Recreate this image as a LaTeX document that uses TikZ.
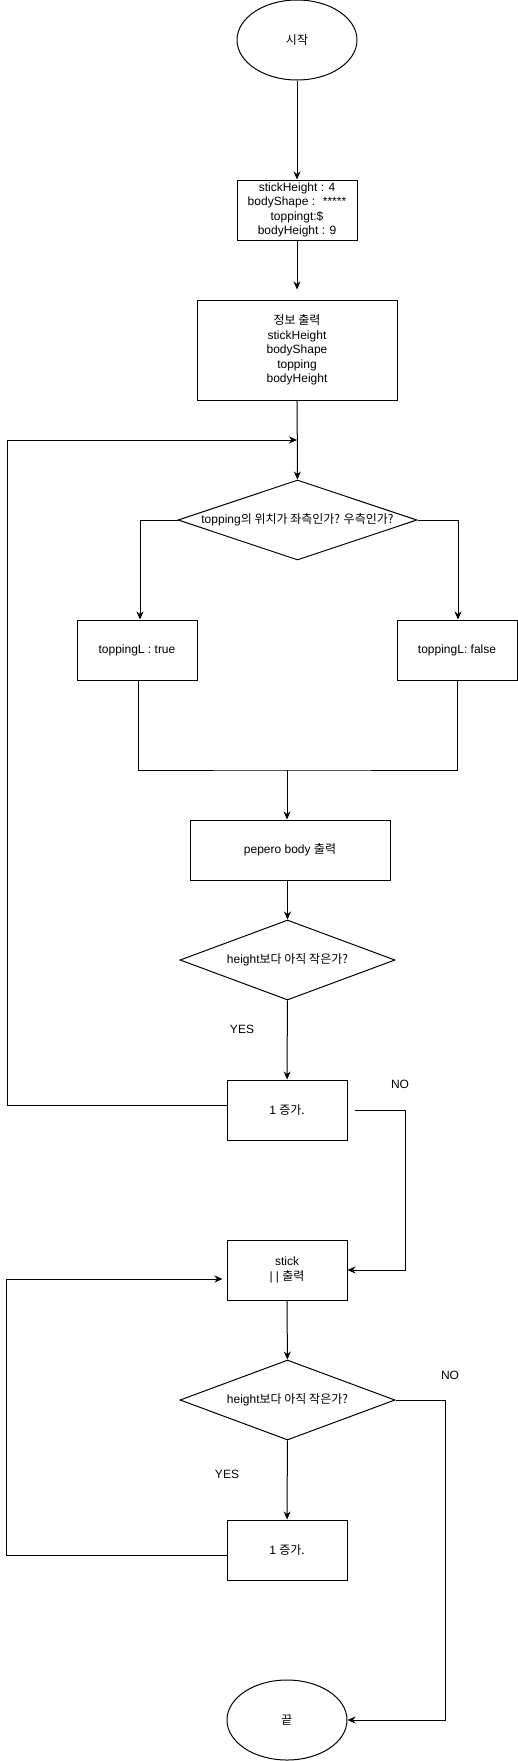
\documentclass[tikz,border=0pt]{standalone}
\usepackage{fontspec}
\setmainfont{Liberation Sans}
\newfontfamily\kr{Noto Sans CJK KR}
\usetikzlibrary{shapes.geometric,arrows.meta,calc}
\begin{document}
\begin{tikzpicture}[x=1pt,y=-1pt,
  every node/.style={font=\fontsize{12pt}{14.4pt}\selectfont},
  base/.style={draw, line width=1pt, inner sep=0pt, align=center},
  terminal/.style={base, ellipse, minimum width=120pt, minimum height=80pt},
  proc/.style={base, rectangle, minimum width=120pt, minimum height=60pt},
  decision/.style={base, diamond, aspect=3, minimum width=215pt, minimum height=80pt},
  txt/.style={inner sep=0pt, align=center},
  conn/.style={line width=1pt},
  arr/.style={conn, -{Stealth[length=8pt,width=7pt,inset=2.5pt]}}
]
\useasboundingbox (0,0) rectangle (518,1761);

% nodes
\node[terminal] (start) at (297,40) {\kr 시작};
\node[proc] (init) at (297,210) {stickHeight : 4\\bodyShape : ~*****\\toppingt:\$\\bodyHeight : 9};
\node[proc, minimum width=200pt, minimum height=100pt] (info) at (297,350)
  {{\kr 정보 출력}\\stickHeight\\bodyShape\\topping\\bodyHeight};
\coordinate (j1) at (297,440);
\node[decision, minimum width=239pt] (d1) at (297.5,520) {};
\node[txt] (d1t) at (d1) {topping{\kr 의 위치가 좌측인가? 우측인가?}};
\node[proc] (tl) at (137,650) {toppingL : true};
\node[proc] (tr) at (457,650) {toppingL: false};
\coordinate (m) at (287,770);
\node[proc, minimum width=200pt] (body) at (290,850) {pepero body {\kr 출력}};
\node[decision] (d2) at (287.5,960) {};
\node[txt] (d2t) at (d2) {height{\kr 보다 아직 작은가?}};
\node[txt] (yes1) at (242,1029) {YES};
\node[proc] (inc1) at (287,1110) {1 {\kr 증가.}};
\node[txt] (no1) at (400,1084) {NO};
\coordinate (n1) at (355,1110);
\node[proc] (stick) at (287,1270) {stick\\| | {\kr 출력}};
\node[decision] (d3) at (287.5,1400) {};
\node[txt] (d3t) at (d3) {height{\kr 보다 아직 작은가?}};
\node[txt] (no2) at (450,1375) {NO};
\node[txt] (yes2) at (227,1474) {YES};
\node[proc] (inc2) at (287,1550) {1 {\kr 증가.}};
\node[terminal] (end) at (287,1720) {\kr 끝};

% connectors
\draw[arr] (start) -- (init);
\draw[arr, shorten >=10pt] (init) -- (info);
\draw[arr] (info) -- (d1);
\draw[arr] ([yshift=5pt]inc1.west) -- ++(-219,0) |- (j1);
\draw[arr] (d1.west) -| ([xshift=3pt]tl.north);
\draw[arr] (d1.east) -| ([xshift=1pt]tr.north);
\draw[conn] ([xshift=1pt]tl.south) |- (m) -| (tr.south);
\draw[arr] (m) -- (m |- body.north);
\draw[arr] (d2.north |- body.south) -- (d2.north);
\draw[arr] (d2) -- (inc1);
\draw[arr] (n1) -- ++(50,0) |- (stick.east);
\draw[arr] (stick) -- (d3);
\draw[arr] (d3) -- (inc2);
\draw[arr, shorten >=4pt] ([yshift=-5pt]inc2.west) -- ++(-220,0) |- ([yshift=-9pt]stick.west);
\draw[arr] (d3.east) -- ++(50,0) |- (end.east);
\end{tikzpicture}
\end{document}
